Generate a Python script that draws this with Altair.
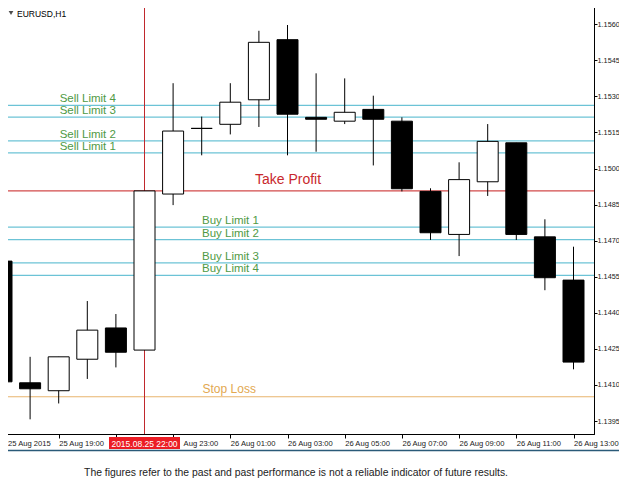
#!/usr/bin/env python3
"""
EURUSD H1 candlestick chart with pending order levels (MT4 style), drawn with Altair.
"""

import pandas as pd
import altair as alt

COLORS = {
    'limit_line': '#6cc3d6',
    'limit_text': '#4f9a45',
    'tp_line': '#d24a4a',
    'tp_text': '#c8282d',
    'sl_line': '#e8b46e',
    'sl_text': '#e2a850',
    'cross': '#c0282d',
    'cross_box': '#ec1c24',
    'sep': '#2a5a78',
}
FONT = 'Liberation Sans'

# ---------------------------------------------------------------------
# Data
# ---------------------------------------------------------------------
HOURS = [
    '2015-08-25 17:00', '2015-08-25 18:00', '2015-08-25 19:00', '2015-08-25 20:00',
    '2015-08-25 21:00', '2015-08-25 22:00', '2015-08-25 23:00', '2015-08-26 00:00',
    '2015-08-26 01:00', '2015-08-26 02:00', '2015-08-26 03:00', '2015-08-26 04:00',
    '2015-08-26 05:00', '2015-08-26 06:00', '2015-08-26 07:00', '2015-08-26 08:00',
    '2015-08-26 09:00', '2015-08-26 10:00', '2015-08-26 11:00', '2015-08-26 12:00',
    '2015-08-26 13:00',
]
OPEN = [1.14615, 1.14109, 1.14076, 1.14207, 1.14337, 1.14245, 1.14894, 1.15167,
        1.15184, 1.15286, 1.15536, 1.15213, 1.15197, 1.15246, 1.15197, 1.14905,
        1.14726, 1.14945, 1.15107, 1.14716, 1.14536]
HIGH = [1.14765, 1.14217, 1.14217, 1.14449, 1.14395, 1.14907, 1.15355, 1.15216,
        1.15355, 1.15573, 1.15597, 1.15396, 1.15375, 1.15303, 1.15213, 1.14918,
        1.15026, 1.15185, 1.15107, 1.14789, 1.14675]
LOW = [1.14079, 1.13957, 1.14023, 1.14125, 1.14173, 1.14245, 1.14848, 1.15055,
       1.15142, 1.15173, 1.15055, 1.15070, 1.15185, 1.15013, 1.14905, 1.14703,
       1.14636, 1.14886, 1.14703, 1.14494, 1.14165]
CLOSE = [1.14113, 1.14084, 1.14217, 1.14328, 1.14236, 1.14907, 1.15156, 1.15167,
         1.15276, 1.15525, 1.15226, 1.15205, 1.15234, 1.15205, 1.14916, 1.14733,
         1.14954, 1.15113, 1.14726, 1.14546, 1.14195]

LEVEL_NAMES = ['Sell Limit 4', 'Sell Limit 3', 'Sell Limit 2', 'Sell Limit 1',
               'Take Profit',
               'Buy Limit 1', 'Buy Limit 2', 'Buy Limit 3', 'Buy Limit 4',
               'Stop Loss']
LEVEL_PRICES = [1.15263, 1.15214, 1.15115, 1.15065,
                1.14907,
                1.14756, 1.14704, 1.14608, 1.14556,
                1.14051]
LEVEL_KINDS = ['limit'] * 4 + ['tp'] + ['limit'] * 4 + ['sl']
LEVEL_LABEL_AT = ['2015-08-25 21:00'] * 4 + ['2015-08-26 04:00'] + \
                 ['2015-08-26 02:00'] * 4 + ['2015-08-26 02:00']

Y_TICKS = [1.1395, 1.1410, 1.1425, 1.1440, 1.1455, 1.1470, 1.1485,
           1.1500, 1.1515, 1.1530, 1.1545, 1.1560]
X_TICK_HOURS = [17, 19, 21, 23, 1, 3, 5, 7, 9, 11, 13]
# 21:00 sits under the crosshair date box, which also hides the "25 " of 23:00
X_TICK_LABELS = ['25 Aug 2015', '25 Aug 19:00', '', 'Aug 23:00', '26 Aug 01:00',
                 '26 Aug 03:00', '26 Aug 05:00', '26 Aug 07:00', '26 Aug 09:00',
                 '26 Aug 11:00', '26 Aug 13:00']

CROSSHAIR = '2015-08-25 22:00'
CROSSHAIR_LABEL = '2015.08.25 22:00'
SYMBOL = 'EURUSD,H1'
FOOTER = ('The figures refer to the past and past performance is not '
          'a reliable indicator of future results.')

candles = pd.DataFrame({'t': HOURS, 'open': OPEN, 'high': HIGH, 'low': LOW, 'close': CLOSE})
candles['dir'] = ['up' if c >= o else 'down' for o, c in zip(OPEN, CLOSE)]

levels = pd.DataFrame({'name': LEVEL_NAMES, 'price': LEVEL_PRICES,
                       'kind': LEVEL_KINDS, 'at': LEVEL_LABEL_AT})

# ---------------------------------------------------------------------
# Scales / axes
# ---------------------------------------------------------------------
x_scale = alt.Scale(domain=[
    alt.DateTime(year=2015, month=8, date=25, hours=16, minutes=56, seconds=51),
    alt.DateTime(year=2015, month=8, date=26, hours=13, minutes=43),
], padding=0)
y_scale = alt.Scale(domain=[1.13896, 1.15701], zero=False, nice=False, padding=0)

tick_dates = []
for h in X_TICK_HOURS:
    d = 25 if h >= 17 else 26
    tick_dates.append(alt.DateTime(year=2015, month=8, date=d, hours=h))

label_expr = ''.join(f"hours(datum.value) == {h} ? '{lab}' : "
                     for h, lab in zip(X_TICK_HOURS, X_TICK_LABELS)) + "''"

# first label would sit on the page margin, 23:00 starts right of the date box
label_offset = {
    'condition': [
        {'test': 'hours(datum.value) == 17', 'value': 6},
        {'test': 'hours(datum.value) == 23', 'value': 10},
    ],
    'value': 0,
}

x_axis = alt.Axis(values=tick_dates, labelExpr=label_expr, title=None, grid=False,
                  labelAlign='left', labelBaseline='top', labelPadding=1,
                  labelOffset=label_offset,
                  tickSize=4, labelFlush=False, labelOverlap=False,
                  labelFontSize=7.6, labelFont=FONT, labelColor='#222',
                  domainColor='black', tickColor='black')
y_axis = alt.Axis(orient='right', values=Y_TICKS, format='.4f', title=None, grid=False,
                  tickSize=3, labelPadding=0, labelFlush=False, labelOverlap=False,
                  labelFontSize=7.3, labelFont=FONT, labelColor='#222',
                  domainColor='black', tickColor='black')

X = alt.X('t:T', scale=x_scale, axis=x_axis)

# ---------------------------------------------------------------------
# Candles
# ---------------------------------------------------------------------
base = alt.Chart(candles)
wicks = base.mark_rule(color='black', strokeWidth=1).encode(
    x=X,
    y=alt.Y('low:Q', scale=y_scale, axis=y_axis),
    y2='high:Q',
)
bodies = base.mark_bar(size=21, stroke='black', strokeWidth=1).encode(
    x=X,
    y=alt.Y('open:Q', scale=y_scale, axis=y_axis),
    y2='close:Q',
    fill=alt.Fill('dir:N', scale=alt.Scale(domain=['up', 'down'], range=['white', 'black']),
                  legend=None),
)

# ---------------------------------------------------------------------
# Order levels
# ---------------------------------------------------------------------
lev = alt.Chart(levels)
level_lines = lev.mark_rule(strokeWidth=1.2).encode(
    y=alt.Y('price:Q', scale=y_scale, axis=y_axis),
    color=alt.Color('kind:N', scale=alt.Scale(
        domain=['limit', 'tp', 'sl'],
        range=[COLORS['limit_line'], COLORS['tp_line'], COLORS['sl_line']]), legend=None),
)

def level_text(kind, color, size, dy, dx=0):
    return lev.transform_filter(alt.datum.kind == kind).mark_text(
        align='right', baseline='alphabetic', dy=dy, dx=dx,
        font=FONT, fontSize=size, color=color,
    ).encode(
        x=alt.X('at:T', scale=x_scale, axis=x_axis),
        y=alt.Y('price:Q', scale=y_scale, axis=y_axis),
        text='name:N',
    )

limit_labels = level_text('limit', COLORS['limit_text'], 11.5, -3)
tp_label = level_text('tp', COLORS['tp_text'], 14, -7, 5)
sl_label = level_text('sl', COLORS['sl_text'], 12, -4, -3)

# ---------------------------------------------------------------------
# Crosshair with date box on the time axis
# ---------------------------------------------------------------------
cross = alt.Chart(pd.DataFrame({'t': [CROSSHAIR], 'label': [CROSSHAIR_LABEL]}))
cross_line = cross.mark_rule(color=COLORS['cross'], strokeWidth=1).encode(x=X)
cross_box = cross.mark_bar(size=71, color=COLORS['cross_box']).encode(
    x=X, y=alt.value(437), y2=alt.value(449))
cross_text = cross.mark_text(color='white', font=FONT, fontSize=8.5, baseline='middle').encode(
    x=X, y=alt.value(443.5), text='label:N')

# ---------------------------------------------------------------------
# Decorations: symbol, separator, footer
# ---------------------------------------------------------------------
one = alt.Chart(pd.DataFrame({'a': [0]}))
sym_marker = one.mark_point(shape='triangle-down', filled=True, color='black', size=22).encode(
    x=alt.value(11), y=alt.value(13))
sym_text = one.mark_text(align='left', baseline='middle', font=FONT, fontSize=8.5,
                         color='black').encode(
    x=alt.value(17), y=alt.value(13.5), text=alt.value(SYMBOL))
separator = one.mark_rule(color=COLORS['sep'], strokeWidth=1.5).encode(
    x=alt.value(0), x2=alt.value(627), y=alt.value(450.5))
footer = one.mark_text(align='center', baseline='middle', font=FONT, fontSize=10.4,
                       color='#222').encode(
    x=alt.value(296), y=alt.value(472.5), text=alt.value(FOOTER))

# Page body has an 8px margin on every side: the svg is kept to 611x479 so the
# page is exactly the window size, and the negative padding lines the plot up
# with the window's top-left corner.
chart = alt.layer(
    level_lines, cross_line, wicks, bodies,
    limit_labels, tp_label, sl_label,
    cross_box, cross_text, sym_marker, sym_text, separator, footer,
).properties(
    width=594,
    height=434,
    autosize=alt.AutoSizeParams(type='none'),
    padding={'left': -8, 'top': -8, 'right': 25, 'bottom': 53},
    background='white',
).configure_view(
    stroke='black', strokeWidth=1,
)

chart.save('out.html', embed_options={'renderer': 'svg', 'actions': False})
